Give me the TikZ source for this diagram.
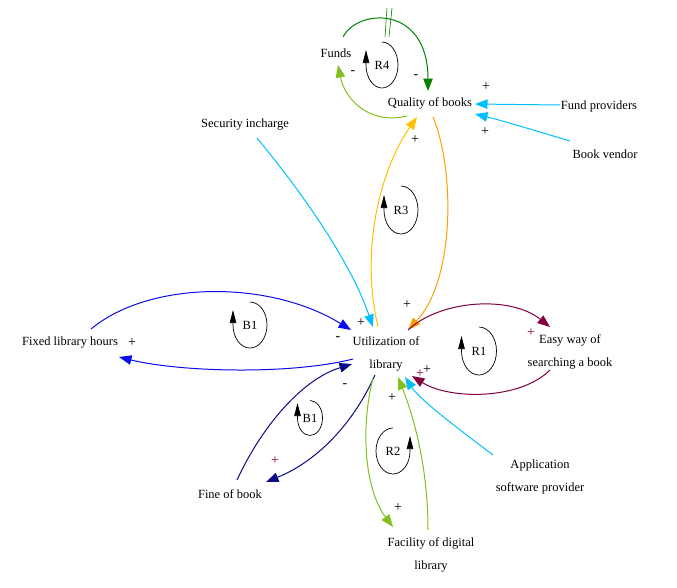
\documentclass[tikz,border=0pt]{standalone}
\usepackage{fontspec}
\setmainfont{Liberation Serif}
\usetikzlibrary{arrows.meta}
\definecolor{dgreen}{RGB}{0,128,0}
\definecolor{ygreen}{RGB}{130,192,30}
\definecolor{skyc}{RGB}{0,191,255}
\definecolor{orng}{RGB}{255,160,0}
\definecolor{gold}{RGB}{255,192,0}
\definecolor{bblue}{RGB}{10,10,235}
\definecolor{nvy}{RGB}{10,10,135}
\definecolor{mrn}{RGB}{128,0,64}
\newcommand{\fbloopL}[6]{%
  \node[lbl] (#1) at (#2,#3) {#6};
  \draw[looparc] (#2,{#3-#5}) arc[start angle=270, end angle=540, x radius=#4, y radius=#5] -- ++(0,-15);}
\newcommand{\fbloopR}[6]{%
  \node[lbl] (#1) at (#2,#3) {#6};
  \draw[looparc] (#2,{#3-#5}) arc[start angle=270, end angle=0, x radius=#4, y radius=#5] -- ++(0,-15);}
\begin{document}
\begin{tikzpicture}[x=1pt,y=-1pt,font=\fontsize{12.5}{22.5}\selectfont,
  lbl/.style={inner sep=1pt,align=center},
  lnk/.style={line width=1pt,-{Triangle[length=12.5pt,width=9.5pt]}},
  looparc/.style={black,line width=0.7pt,-{Triangle[length=13pt,width=6.5pt]}},
  sgn/.style={inner sep=0pt,font=\fontsize{14}{14}\selectfont}]
\useasboundingbox (0,0) rectangle (677,587);
% variables
\node[lbl] (funds) at (336,53) {Funds};
\node[lbl] (qual) at (430,103) {Quality of books};
\node[lbl] (fprov) at (599,106) {Fund providers};
\node[lbl] (bvend) at (605,154) {Book vendor};
\node[lbl] (sec) at (245,125) {Security incharge};
\node[lbl] (util) at (386,354) {Utilization of\\library};
\node[lbl] (easy) at (570,352) {Easy way of\\searching a book};
\node[lbl] (fixed) at (70,343) {Fixed library hours};
\node[lbl] (fine) at (230,494) {Fine of book};
\node[lbl] (fac) at (431,555) {Facility of digital\\library};
\node[lbl] (app) at (540,477) {Application\\software provider};
% links
\draw[lnk,dgreen] ([shift={(7,-16)}]funds.center) .. controls (358,8) and (428,5) .. ([shift={(-2,-12)}]qual.center);
\draw[dgreen,line width=0.6pt] (387,8) -- (385,37) (392,8) -- (389,37);
\draw[lnk,ygreen] ([shift={(-23,13)}]qual.center) .. controls (370,125) and (345,100) .. ([shift={(2,12)}]funds.center);
\draw[lnk,skyc] ([shift={(-39,-1)}]fprov.center) -- ([shift={(45,1)}]qual.center);
\draw[lnk,skyc] ([shift={(-35,-13)}]bvend.center) .. controls (540,132) and (500,120) .. ([shift={(45,11)}]qual.center);
\draw[lnk,orng] ([shift={(3,14)}]qual.center) .. controls (455,170) and (455,280) .. ([shift={(22,-24)}]util.center);
\draw[lnk,gold] ([shift={(-8,-27)}]util.center) .. controls (360,250) and (380,170) .. ([shift={(-13,14)}]qual.center);
\draw[lnk,skyc] ([shift={(12,13)}]sec.center) .. controls (300,190) and (350,260) .. ([shift={(-13,-27)}]util.center);
\draw[lnk,bblue] ([shift={(21,-14)}]fixed.center) .. controls (150,280) and (270,280) .. ([shift={(-35,-24)}]util.center);
\draw[lnk,bblue] ([shift={(-33,5)}]util.center) .. controls (290,375) and (180,372) .. ([shift={(49,14)}]fixed.center);
\draw[lnk,nvy] ([shift={(7,-14)}]fine.center) .. controls (260,430) and (300,380) .. ([shift={(-34,10)}]util.center);
\draw[lnk,nvy] ([shift={(-11,21)}]util.center) .. controls (355,420) and (320,460) .. ([shift={(36,-12)}]fine.center);
\draw[lnk,ygreen] ([shift={(-13,24)}]util.center) .. controls (360,430) and (365,490) .. ([shift={(-38,-28)}]fac.center);
\draw[lnk,ygreen] ([shift={(-3,-25)}]fac.center) .. controls (428,470) and (415,420) .. ([shift={(12,23)}]util.center);
\draw[lnk,skyc] ([shift={(-47,-22)}]app.center) .. controls (460,430) and (420,400) .. ([shift={(19,23)}]util.center);
\draw[lnk,mrn] ([shift={(22,-24)}]util.center) .. controls (440,300) and (510,295) .. ([shift={(-20,-25)}]easy.center);
\draw[lnk,mrn] ([shift={(-20,18)}]easy.center) .. controls (520,400) and (450,400) .. ([shift={(26,22)}]util.center);
% signs
\node[sgn] (s1) at (353,73) {-};
\node[sgn] (s2) at (416,77) {-};
\node[sgn] (s3) at (486,87) {+};
\node[sgn] (s4) at (485,132) {+};
\node[sgn] (s5) at (415,140) {+};
\node[sgn] (s6) at (407,305) {+};
\node[sgn] (s7) at (361,323) {+};
\node[sgn] (s8) at (338,339) {-};
\node[sgn] (s9) at (132,343) {+};
\node[sgn] (s10) at (345,386) {-};
\node[sgn,mrn] (s11) at (275,461) {+};
\node[sgn] (s12) at (398,508) {+};
\node[sgn] (s13) at (392,398) {+};
\node[sgn,mrn] (s14) at (420,374) {+};
\node[sgn] (s15) at (427,370) {+};
\node[sgn,mrn] (s16) at (531,333) {+};
% loops
\fbloopL{r4}{382}{65}{16}{23}{R4}
\fbloopL{r1}{479}{351}{17.5}{24}{R1}
\fbloopL{r3}{401}{210}{17}{24}{R3}
\fbloopL{b1a}{250}{325}{17}{23}{B1}
\fbloopL{b1b}{310}{418}{12.5}{17.5}{B1}
\fbloopR{r2}{393}{451}{17}{23}{R2}
\end{tikzpicture}
\end{document}
